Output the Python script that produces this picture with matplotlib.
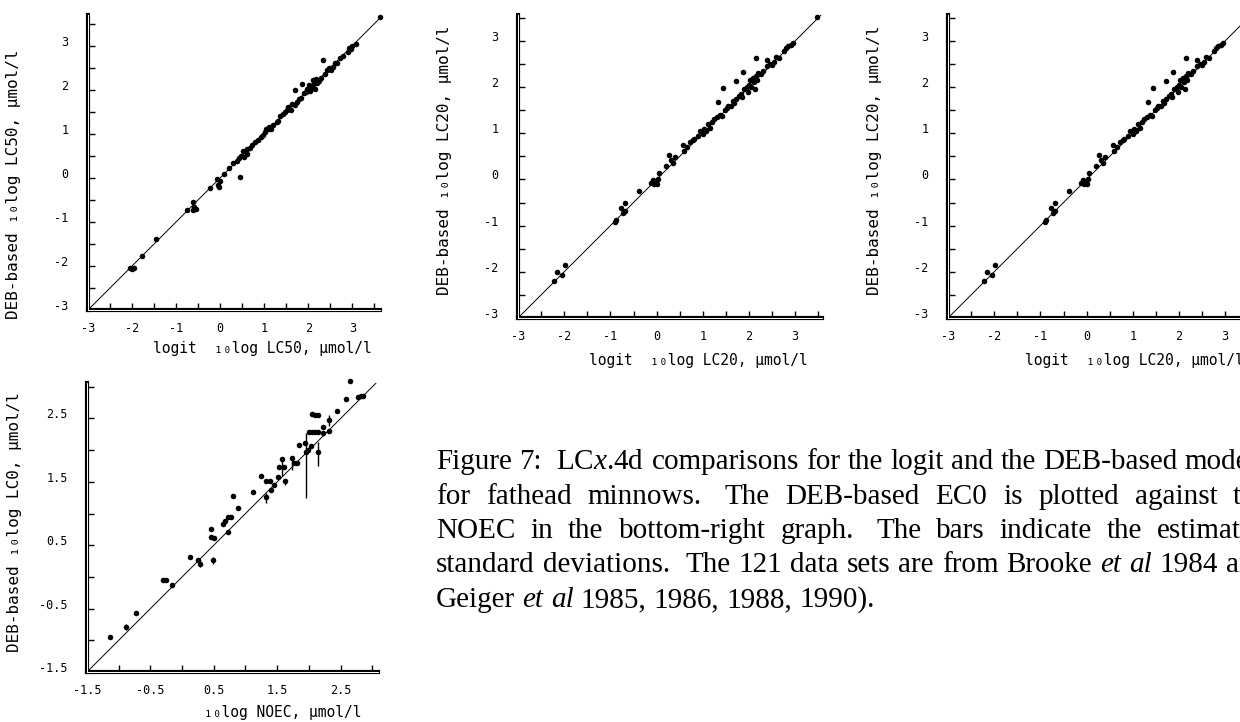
import matplotlib
matplotlib.use("Agg")
import matplotlib.pyplot as plt
import matplotlib.transforms as mtransforms

plt.rcParams['font.family'] = ['DejaVu Sans Mono', 'DejaVu Sans']
plt.rcParams['mathtext.fontset'] = 'custom'
plt.rcParams['mathtext.rm'] = 'Liberation Serif'
plt.rcParams['mathtext.it'] = 'Liberation Serif:italic'

# ---- data ----
lc50_logit = [-2.05, -2.0, -1.95, -1.78, -1.45, -0.75, -0.62, -0.6, -0.55, -0.62, -0.22, -0.08, -0.05, 0.0, -0.03,
              0.08, 0.2, 0.3, 0.38, 0.45, 0.42, 0.48, 0.52, 0.55, 0.6, 0.62, 0.68, 0.72, 0.8, 0.85, 0.92, 0.98,
              1.02, 1.05, 1.08, 1.12, 1.15, 1.2, 1.28, 1.32, 1.36, 1.42, 1.48, 1.52, 1.55, 1.6, 1.64, 1.7, 1.7,
              1.75, 1.8, 1.84, 1.87, 1.9, 1.95, 1.98, 2.02, 2.05, 2.08, 2.1, 2.12, 2.15, 2.18, 2.2, 2.25, 2.3,
              2.34, 2.38, 2.42, 2.48, 2.52, 2.56, 2.6, 2.65, 2.72, 2.8, 2.9, 2.93, 2.97, 3.0, 3.08, 3.62]
lc50_deb = [-2.05, -2.06, -2.04, -1.78, -1.38, -0.73, -0.55, -0.65, -0.7, -0.72, -0.22, -0.02, -0.15, -0.08, -0.2,
            0.08, 0.22, 0.35, 0.38, 0.03, 0.45, 0.5, 0.6, 0.48, 0.55, 0.65, 0.68, 0.75, 0.82, 0.85, 0.92, 0.98,
            1.05, 1.1, 1.12, 1.15, 1.1, 1.2, 1.28, 1.3, 1.4, 1.45, 1.5, 1.55, 1.6, 1.55, 1.68, 2.0, 1.65,
            1.72, 1.8, 1.82, 2.13, 1.92, 1.95, 2.02, 2.1, 1.98, 2.05, 2.22, 2.1, 2.02, 2.25, 2.15, 2.2, 2.28,
            2.68, 2.35, 2.45, 2.5, 2.45, 2.52, 2.6, 2.62, 2.72, 2.76, 2.85, 2.95, 2.92, 3.0, 3.05, 3.65]

lc20_logit = [-2.22, -2.16, -2.04, -1.99, -0.91, -0.88, -0.76, -0.69, -0.69, -0.72, -0.39, -0.12, -0.08, -0.05,
              -0.02, 0.0, 0.03, 0.05, 0.21, 0.26, 0.32, 0.35, 0.4, 0.57, 0.6, 0.65, 0.72, 0.78, 0.82, 0.9, 0.95,
              1.0, 1.02, 1.08, 1.12, 1.15, 1.2, 1.25, 1.3, 1.33, 1.38, 1.42, 1.44, 1.48, 1.52, 1.55, 1.6, 1.65,
              1.68, 1.71, 1.72, 1.78, 1.82, 1.85, 1.87, 1.9, 1.95, 1.98, 2.0, 2.02, 2.05, 2.08, 2.1, 2.12, 2.15,
              2.15, 2.18, 2.2, 2.25, 2.3, 2.38, 2.4, 2.45, 2.5, 2.55, 2.59, 2.65, 2.75, 2.8, 2.85, 2.9, 2.95, 3.48]
lc20_deb = [-2.19, -2.01, -2.07, -1.85, -0.92, -0.88, -0.62, -0.51, -0.69, -0.72, -0.26, -0.08, -0.02, -0.1,
            -0.05, -0.1, 0.0, 0.14, 0.3, 0.53, 0.42, 0.35, 0.48, 0.75, 0.62, 0.7, 0.8, 0.85, 0.88, 0.95, 1.05,
            0.98, 1.1, 1.05, 1.2, 1.12, 1.25, 1.3, 1.35, 1.68, 1.4, 1.38, 1.97, 1.5, 1.55, 1.6, 1.58, 1.7,
            1.65, 2.14, 1.75, 1.8, 1.85, 1.78, 2.32, 1.95, 2.0, 1.9, 2.05, 2.15, 2.0, 2.2, 2.1, 1.95, 2.63,
            2.25, 2.15, 2.3, 2.28, 2.35, 2.58, 2.45, 2.5, 2.48, 2.55, 2.66, 2.62, 2.78, 2.85, 2.88, 2.92, 2.95, 3.52]

noec = [-1.14, -0.89, -0.73, -0.30, -0.25, -0.16, 0.13, 0.25, 0.29, 0.45, 0.45, 0.50, 0.48, 0.64, 0.67,
        0.72, 0.77, 0.73, 0.80, 0.88, 1.12, 1.25, 1.32, 1.38, 1.32, 1.40, 1.45, 1.52, 1.53, 1.58, 1.60,
        1.63, 1.74, 1.77, 1.82, 1.85, 1.94, 1.955, 1.98, 2.0, 2.05, 2.1, 2.15, 2.05, 2.1, 2.15, 2.04,
        2.15, 2.22, 2.23, 2.32, 2.32, 2.45, 2.59, 2.65, 2.78, 2.82, 2.86]
ec0_deb = [-0.95, -0.79, -0.57, -0.05, -0.05, -0.13, 0.31, 0.26, 0.21, 0.75, 0.63, 0.62, 0.26, 0.83, 0.89,
           0.95, 0.95, 0.71, 1.28, 1.08, 1.34, 1.59, 1.51, 1.52, 1.26, 1.37, 1.45, 1.57, 1.74, 1.86, 1.74,
           1.51, 1.88, 1.79, 1.80, 2.08, 2.11, 1.97, 2.0, 2.28, 2.28, 2.28, 2.28, 2.57, 2.56, 2.56, 2.06,
           1.97, 2.27, 2.37, 2.48, 2.30, 2.62, 2.81, 3.09, 2.84, 2.85, 2.86]
ec0_sd_lo = [0, 0.05, 0, 0, 0, 0, 0, 0, 0.05, 0, 0, 0, 0.06, 0, 0,
             0, 0, 0, 0, 0, 0, 0, 0, 0, 0.1, 0, 0, 0, 0, 0.26, 0,
             0.06, 0.19, 0, 0, 0, 0, 0.73, 0, 0, 0, 0, 0, 0, 0, 0, 0,
             0.22, 0, 0, 0.1, 0, 0, 0, 0, 0, 0, 0]
ec0_sd_hi = [0, 0.05, 0, 0, 0, 0, 0, 0, 0.05, 0, 0, 0, 0.06, 0, 0,
             0, 0, 0, 0, 0, 0, 0, 0, 0, 0.06, 0, 0, 0, 0, 0.02, 0,
             0.04, 0.02, 0, 0, 0, 0, 0.3, 0, 0, 0, 0, 0, 0, 0, 0, 0,
             0.16, 0, 0, 0.08, 0, 0, 0, 0, 0, 0, 0]

ticks_lc = [-3, -2, -1, 0, 1, 2, 3]
minor_lc = [-2.5, -1.5, -0.5, 0.5, 1.5, 2.5, 3.5]
ticks_noec = [-1.5, -0.5, 0.5, 1.5, 2.5]
minor_noec = [-1.0, 0.0, 1.0, 2.0, 3.0]

caption_lines = [
    "Figure 7:  LC$\\mathit{x}$.4d comparisons for the logit and the DEB-based models",
    "for fathead minnows.  The DEB-based EC0 is plotted against the",
    "NOEC in the bottom-right graph.  The bars indicate the estimated",
    "standard deviations.  The 121 data sets are from Brooke et al 1984 and",
    "Geiger et al 1985, 1986, 1988, 1990).",
]

W, H = 1240, 722
fig = plt.figure(figsize=(12.4, 7.22), dpi=100)


def box(l, t, r, b):
    return [l / W, 1 - b / H, (r - l) / W, (b - t) / H]


def panel(rect, xs, ys, lim, ticks, minor):
    ax = fig.add_axes(box(*rect))
    ax.set_xlim(lim[0], lim[1])
    ax.set_ylim(lim[0], lim[2])
    ax.spines['top'].set_visible(False)
    ax.spines['right'].set_visible(False)
    for s in ['left', 'bottom']:
        ax.spines[s].set_linewidth(3)
    # thin white line inside the thick spine -> double rule like the scan
    ax.plot([0, 0], [0, 1], transform=ax.transAxes, color='white', lw=0.7, clip_on=False, zorder=5)
    ax.plot([0, 1], [0, 0], transform=ax.transAxes, color='white', lw=0.7, clip_on=False, zorder=5)
    ax.set_xticks(ticks, ['%g' % t for t in ticks])
    ax.set_yticks(ticks, ['%g' % t for t in ticks])
    ax.set_xticks(minor, minor=True)
    ax.set_yticks(minor, minor=True)
    ax.tick_params(which='both', direction='in', length=5, width=1, labelsize=8.5)
    ax.tick_params(axis='y', pad=14)
    ax.tick_params(axis='x', pad=9)
    up = mtransforms.ScaledTranslation(0, 3.6 / 72, fig.dpi_scale_trans)
    for lab in ax.get_yticklabels():
        lab.set_transform(lab.get_transform() + up)
    top = min(lim[1], lim[2])
    ax.plot([lim[0], top], [lim[0], top], color='black', lw=0.7)
    ax.plot(xs, ys, 'o', ms=4, color='black', mew=0, clip_on=False)
    return ax


panel((88, 15, 380, 310), lc50_logit, lc50_deb, (-3, 3.63, 3.70), ticks_lc, minor_lc)
panel((518, 15, 822, 318), lc20_logit, lc20_deb, (-3, 3.58, 3.56), ticks_lc, minor_lc)
panel((948, 15, 1252, 318), lc20_logit, lc20_deb, (-3, 3.58, 3.56), ticks_lc, minor_lc)
ax4 = panel((87, 383, 378, 672), noec, ec0_deb, (-1.5, 3.09, 3.06), ticks_noec, minor_noec)
ax4.errorbar(noec, ec0_deb, yerr=[ec0_sd_lo, ec0_sd_hi], fmt='none', ecolor='black', elinewidth=1, capsize=0)

# axis titles
ylabs = [(14, 184, "DEB-based ₁₀log LC50, µmol/l"),
         (445, 160, "DEB-based ₁₀log LC20, µmol/l"),
         (875, 160, "DEB-based ₁₀log LC20, µmol/l"),
         (15, 522, "DEB-based ₁₀log LC0, µmol/l")]
for x, y, s in ylabs:
    fig.text(x / W, 1 - y / H, s, rotation=90, ha='center', va='center', fontsize=11.5)
xlabs = [(372, 348, "logit  ₁₀log LC50, µmol/l"),
         (808, 360, "logit  ₁₀log LC20, µmol/l"),
         (1244, 360, "logit  ₁₀log LC20, µmol/l"),
         (362, 712, "₁₀log NOEC, µmol/l")]
for x, y, s in xlabs:
    fig.text(x / W, 1 - y / H, s, ha='right', va='center', fontsize=10.5)

# caption, justified word by word
cap_size = 21
sp = 0.25 * cap_size * 100 / 72
x0 = 436
baselines = [469, 503.5, 538, 572.5, 607]
renderer = fig.canvas.get_renderer()
rows = []
for line in caption_lines:
    words = line.split()
    items = []
    for w in words:
        style = 'italic' if w in ('et', 'al') else 'normal'
        t = fig.text(0, 0, w, family='Liberation Serif', fontsize=cap_size, fontstyle=style, va='baseline')
        items.append((w, t, t.get_window_extent(renderer).width))
    gaps = [sp * (2 if items[i][0][-1] in '.:' else 1) for i in range(len(items) - 1)]
    rows.append((items, gaps))

right = max(sum(i[2] for i in it) + sum(g) for it, g in rows[:4]) + x0
for k, (items, gaps) in enumerate(rows):
    natural = sum(i[2] for i in items) + sum(gaps)
    extra = 0
    if k < 4 and gaps:
        extra = (right - x0 - natural) / len(gaps)
    x = x0
    for j, (w, t, wd) in enumerate(items):
        t.set_position((x / W, 1 - baselines[k] / H))
        if j < len(gaps):
            x += wd + gaps[j] + extra

fig.savefig("out.png", dpi=100)
